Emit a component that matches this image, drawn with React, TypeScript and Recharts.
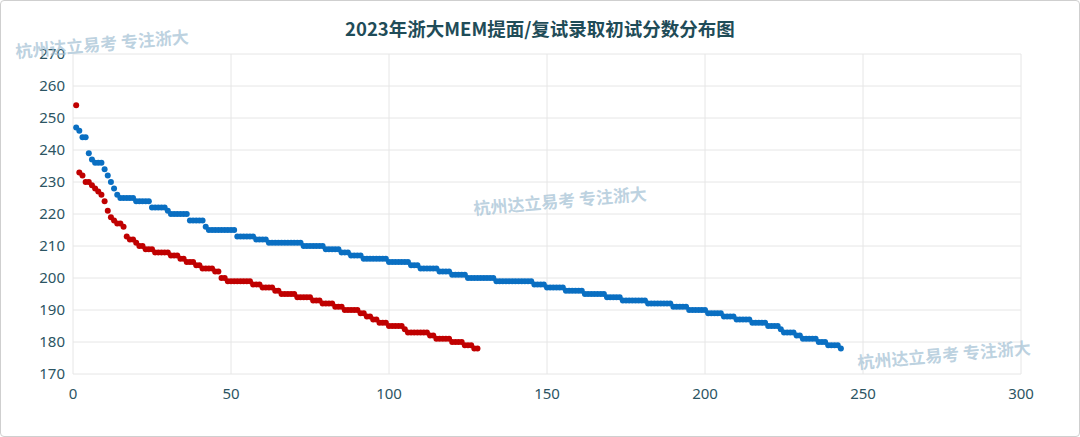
import { CartesianGrid, Scatter, ScatterChart, XAxis, YAxis } from "recharts";

const title = "2023年浙大MEM提面/复试录取初试分数分布图";
const watermark = "杭州达立易考 专注浙大";

const xTicks = [0, 50, 100, 150, 200, 250, 300];
const yTicks = [170, 180, 190, 200, 210, 220, 230, 240, 250, 260, 270];

// blue series: scores in rank order, and how many people sit on each score
const blueScores = [
  247, 246, 244, 239, 237, 236, 234, 232, 230, 228, 226, 225, 224, 222, 221, 220, 218, 216, 215, 213,
  212, 211, 210, 209, 208, 207, 206, 205, 204, 203, 202, 201, 200, 199, 198, 197, 196, 195, 194, 193,
  192, 191, 190, 189, 188, 187, 186, 185, 184, 183, 182, 181, 180, 179, 178
];
const blueCounts = [
  1, 1, 2, 1, 1, 3, 1, 1, 1, 1, 1, 5, 5, 5, 1, 6, 5, 1, 9, 6,
  4, 11, 7, 5, 3, 4, 8, 7, 3, 6, 4, 5, 9, 12, 4, 6, 6, 7, 5, 8,
  8, 5, 6, 5, 4, 5, 5, 4, 1, 4, 2, 5, 3, 4, 1
];

// red series
const redScores = [
  254, 233, 232, 230, 229, 228, 227, 226, 224, 221, 219, 218, 217, 216, 213, 212, 211, 210, 209, 208,
  207, 206, 205, 204, 203, 202, 200, 199, 198, 197, 196, 195, 194, 193, 192, 191, 190, 189, 188, 187,
  186, 185, 184, 183, 182, 181, 180, 179, 178
];
const redCounts = [
  1, 1, 1, 2, 1, 1, 1, 1, 1, 1, 1, 1, 2, 1, 1, 2, 1, 2, 3, 5,
  3, 2, 3, 2, 4, 2, 2, 8, 3, 4, 2, 5, 5, 3, 4, 3, 5, 2, 2, 2,
  3, 5, 1, 7, 2, 5, 4, 3, 2
];

function expand(scores: number[], counts: number[]) {
  const out: { rank: number; score: number }[] = [];
  scores.forEach((s, k) => {
    for (let n = 0; n < counts[k]; n++) out.push({ rank: out.length + 1, score: s });
  });
  return out;
}

const blueData = expand(blueScores, blueCounts);
const redData = expand(redScores, redCounts);

const tickStyle = { fill: "#2c5563", fontSize: 15, fontFamily: "'Noto Sans', 'Noto Sans CJK SC', sans-serif" };

const dot = (color: string) => (props: any) =>
  <circle cx={props.cx} cy={props.cy} r={3} fill={color} />;

const marks = [
  { x: 102, y: 43 },
  { x: 560, y: 200 },
  { x: 944, y: 354 }
];

export default function App() {
  return (
    <div style={{ position: "absolute", left: 0, top: 0, width: 1080, height: 437, background: "#fff" }}>
      <div
        style={{
          position: "absolute",
          left: 0,
          top: 0,
          width: 1080,
          height: 437,
          boxSizing: "border-box",
          border: "1px solid #cfcfcf",
          borderRadius: 4,
          pointerEvents: "none"
        }}
      />
      <div
        style={{
          position: "absolute",
          top: 15,
          left: 0,
          width: 1080,
          textAlign: "center",
          fontFamily: "'Noto Sans CJK SC', 'Noto Sans', sans-serif",
          fontSize: 18.5,
          fontWeight: 600,
          color: "#1f4c58"
        }}
      >
        {title}
      </div>
      <ScatterChart width={1080} height={437} margin={{ top: 54, right: 59, bottom: 33, left: 0 }}>
        <CartesianGrid stroke="#e6e6e6" />
        <XAxis
          type="number"
          dataKey="rank"
          domain={[0, 300]}
          ticks={xTicks}
          axisLine={false}
          tickLine={false}
          tickMargin={8}
          height={30}
          tick={tickStyle}
          interval={0}
        />
        <YAxis
          type="number"
          dataKey="score"
          domain={[170, 270]}
          ticks={yTicks}
          axisLine={false}
          tickLine={false}
          tickMargin={2}
          width={73}
          tick={tickStyle}
          interval={0}
        />
        <Scatter data={blueData} fill="#0a6fc2" shape={dot("#0a6fc2")} isAnimationActive={false} />
        <Scatter data={redData} fill="#c00000" shape={dot("#c00000")} isAnimationActive={false} />
      </ScatterChart>
      {marks.map((m, i) => (
        <div
          key={i}
          style={{
            position: "absolute",
            left: m.x,
            top: m.y,
            transform: "translate(-50%, -50%) rotate(-5deg)",
            whiteSpace: "nowrap",
            fontFamily: "'Noto Sans CJK SC', sans-serif",
            fontSize: 17,
            fontWeight: 700,
            color: "rgba(160, 190, 210, 0.7)",
            pointerEvents: "none"
          }}
        >
          {watermark}
        </div>
      ))}
    </div>
  );
}
